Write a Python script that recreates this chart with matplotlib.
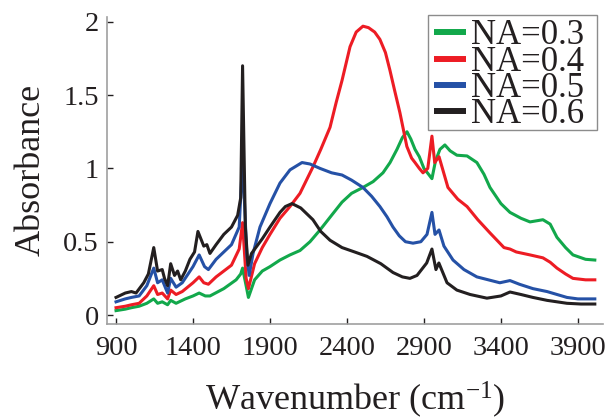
import matplotlib
matplotlib.use("Agg")
import matplotlib.pyplot as plt
from matplotlib.patches import Rectangle

plt.rcParams["font.family"] = ["Liberation Serif", "DejaVu Serif"]
plt.rcParams["mathtext.fontset"] = "custom"
plt.rcParams["mathtext.rm"] = "Liberation Serif"
plt.rcParams["mathtext.it"] = "Liberation Serif:italic"

# 読み取った値 (wavenumber, absorbance)
labels = ["NA=0.3", "NA=0.4", "NA=0.5", "NA=0.6"]
colors = ["#12a84b", "#ed1c24", "#2551a6", "#231f20"]

x_03 = [900, 960, 1000, 1050, 1100, 1145, 1170, 1200, 1235, 1255, 1290, 1350, 1400, 1440, 1480, 1510,
        1600, 1680, 1710, 1722, 1745, 1760, 1800, 1850, 1900, 1965, 2030, 2095, 2160, 2225, 2300, 2368,
        2430, 2504, 2570, 2634, 2680, 2725, 2760, 2790, 2815, 2842, 2870, 2900, 2930, 2952, 2975, 3004,
        3036, 3070, 3114, 3180, 3244, 3290, 3329, 3400, 3459, 3530, 3589, 3673, 3720, 3764, 3820, 3868,
        3950, 4010]
y_03 = [0.03, 0.04, 0.05, 0.06, 0.08, 0.11, 0.08, 0.09, 0.07, 0.10, 0.08, 0.11, 0.13, 0.15, 0.13, 0.13,
        0.18, 0.24, 0.28, 0.32, 0.20, 0.12, 0.24, 0.30, 0.33, 0.375, 0.41, 0.44, 0.50, 0.58, 0.68, 0.77,
        0.83, 0.87, 0.91, 0.97, 1.04, 1.13, 1.21, 1.25, 1.20, 1.13, 1.08, 1.00, 0.96, 0.93, 1.05, 1.13,
        1.16, 1.12, 1.09, 1.085, 1.04, 0.96, 0.87, 0.76, 0.70, 0.66, 0.635, 0.65, 0.62, 0.53, 0.46, 0.41,
        0.38, 0.375]

x_04 = [900, 960, 1000, 1050, 1100, 1145, 1170, 1200, 1235, 1255, 1290, 1330, 1400, 1440, 1470, 1500,
        1550, 1650, 1700, 1722, 1745, 1760, 1800, 1850, 1900, 1965, 2030, 2095, 2179, 2230, 2290, 2330,
        2368, 2420, 2460, 2504, 2540, 2580, 2614, 2650, 2679, 2710, 2744, 2789, 2820, 2842, 2870, 2894,
        2925, 2952, 2970, 2998, 3056, 3120, 3180, 3250, 3329, 3420, 3459, 3500, 3589, 3673, 3720, 3764,
        3820, 3868, 3950, 4010]
y_04 = [0.05, 0.06, 0.07, 0.08, 0.13, 0.20, 0.14, 0.15, 0.11, 0.17, 0.14, 0.16, 0.22, 0.26, 0.22, 0.21,
        0.26, 0.34, 0.45, 0.63, 0.25, 0.18, 0.35, 0.46, 0.55, 0.66, 0.74, 0.83, 1.01, 1.13, 1.28, 1.45,
        1.60, 1.83, 1.93, 1.97, 1.96, 1.93, 1.88, 1.79, 1.67, 1.53, 1.38, 1.15, 1.07, 1.04, 1.00, 0.97,
        1.00, 1.22, 1.04, 1.08, 0.87, 0.79, 0.74, 0.65, 0.56, 0.46, 0.45, 0.43, 0.41, 0.39, 0.36, 0.32,
        0.28, 0.25, 0.24, 0.24]

x_05 = [900, 960, 1000, 1050, 1100, 1145, 1170, 1200, 1235, 1255, 1290, 1330, 1400, 1440, 1475, 1500,
        1550, 1650, 1700, 1722, 1750, 1765, 1790, 1835, 1900, 1965, 2030, 2108, 2160, 2225, 2300, 2368,
        2430, 2504, 2560, 2614, 2660, 2699, 2740, 2780, 2829, 2880, 2920, 2952, 2972, 2998, 3030, 3089,
        3160, 3244, 3393, 3459, 3520, 3608, 3700, 3829, 3900, 4010]
y_05 = [0.09, 0.11, 0.12, 0.13, 0.20, 0.32, 0.22, 0.24, 0.15, 0.25, 0.19, 0.22, 0.33, 0.41, 0.33, 0.31,
        0.38, 0.48, 0.60, 1.06, 0.40, 0.27, 0.42, 0.60, 0.76, 0.90, 0.99, 1.04, 1.03, 1.00, 0.97, 0.955,
        0.92, 0.87, 0.81, 0.74, 0.67, 0.60, 0.54, 0.50, 0.49, 0.50, 0.55, 0.70, 0.55, 0.58, 0.47, 0.375,
        0.31, 0.26, 0.22, 0.235, 0.21, 0.18, 0.16, 0.12, 0.11, 0.11]

x_06 = [900, 960, 1000, 1030, 1080, 1110, 1145, 1170, 1200, 1215, 1235, 1255, 1280, 1300, 1320, 1350,
        1380, 1410, 1432, 1470, 1490, 1510, 1550, 1600, 1650, 1690, 1710, 1722, 1740, 1757, 1780, 1850,
        1900, 1965, 2000, 2043, 2100, 2179, 2230, 2290, 2368, 2450, 2530, 2620, 2699, 2760, 2809, 2855,
        2918, 2952, 2978, 2997, 3050, 3114, 3200, 3309, 3400, 3459, 3530, 3608, 3700, 3829, 3920, 4010]
y_06 = [0.12, 0.15, 0.16, 0.15, 0.22, 0.28, 0.46, 0.30, 0.31, 0.25, 0.20, 0.35, 0.27, 0.30, 0.24, 0.30,
        0.38, 0.43, 0.57, 0.47, 0.48, 0.42, 0.48, 0.55, 0.60, 0.68, 0.80, 1.70, 0.60, 0.34, 0.42, 0.52,
        0.60, 0.70, 0.74, 0.76, 0.73, 0.65, 0.57, 0.51, 0.46, 0.43, 0.40, 0.35, 0.29, 0.26, 0.25, 0.27,
        0.355, 0.45, 0.31, 0.355, 0.22, 0.17, 0.14, 0.115, 0.13, 0.157, 0.14, 0.12, 0.10, 0.08, 0.075, 0.075]

xs = [x_03, x_04, x_05, x_06]
ys = [y_03, y_04, y_05, y_06]

fig = plt.figure(figsize=(6.12, 4.2), dpi=100)
ax = fig.add_axes([0.175, 0.229, 0.81, 0.731])

for x, y, c, lab in zip(xs, ys, colors, labels):
    ax.plot(x, y, color=c, lw=2.2, label=lab)

ax.set_xlim(842, 4062)
ax.set_ylim(-0.06, 2.034)
ax.set_xticks([900, 1400, 1900, 2400, 2900, 3400, 3900])
ax.set_yticks([0, 0.5, 1, 1.5, 2])
ax.set_yticklabels(["0", "0.5", "1", "1.5", "2"])

for s in ["top", "right"]:
    ax.spines[s].set_visible(False)
for s in ["left", "bottom"]:
    ax.spines[s].set_color("#a0a0a0")
    ax.spines[s].set_linewidth(1.2)
ax.tick_params(direction="in", length=4.5, width=1, color="#231f20", labelsize=20.5, labelcolor="#231f20")
ax.tick_params(axis="x", pad=9)
ax.tick_params(axis="y", pad=6)

ax.set_xlabel("Wavenumber (cm$^{-1}$)", fontsize=26, color="#231f20", labelpad=13)
ax.set_ylabel("Absorbance", fontsize=26, color="#231f20", labelpad=11)

# 凡例 (枠は別に描く)
leg = ax.legend(loc="upper left", bbox_to_anchor=(0.7023, 0.964), bbox_transform=fig.transFigure,
                fontsize=25, handlelength=0.92, handletextpad=0.15, labelspacing=-0.19,
                borderpad=0.12, borderaxespad=0, frameon=False)
for h in leg.get_lines():
    h.set_linewidth(4.3)
    h.set_solid_capstyle("butt")
for t in leg.get_texts():
    t.set_color("#231f20")
fig.patches.append(Rectangle((428 / 612, 1 - 130 / 420), 169 / 612, 115 / 420, transform=fig.transFigure,
                             fill=False, edgecolor="#8c8c8c", linewidth=1.0, zorder=5))

fig.savefig("out.png", dpi=100)
